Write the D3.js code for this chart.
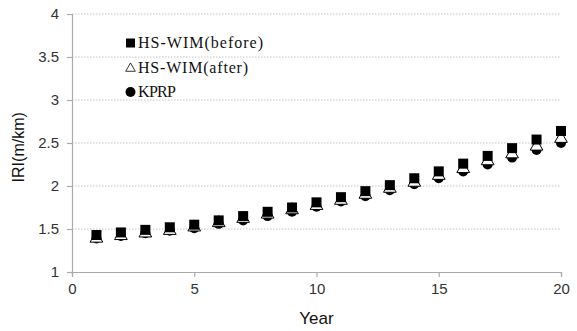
<!DOCTYPE html>
<html>
<head>
<meta charset="utf-8">
<script src="https://cdn.jsdelivr.net/npm/d3@7"></script>
<style>
  body { margin: 0; background: #fff; }
  svg { display: block; }
</style>
</head>
<body>
<svg id="svg"></svg>
<script>
// data
const years = [1, 2, 3, 4, 5, 6, 7, 8, 9, 10, 11, 12, 13, 14, 15, 16, 17, 18, 19, 20];
const before = [1.43, 1.46, 1.49, 1.52, 1.55, 1.60, 1.65, 1.70, 1.75, 1.81, 1.87, 1.94, 2.01, 2.09, 2.17, 2.26, 2.35, 2.44, 2.54, 2.64];
const after = [1.39, 1.42, 1.45, 1.48, 1.52, 1.57, 1.62, 1.67, 1.72, 1.77, 1.83, 1.90, 1.97, 2.04, 2.12, 2.20, 2.29, 2.37, 2.46, 2.55];
const kprp = [1.39, 1.42, 1.45, 1.48, 1.51, 1.56, 1.60, 1.65, 1.70, 1.76, 1.82, 1.88, 1.95, 2.02, 2.09, 2.17, 2.25, 2.33, 2.42, 2.50];
const xTicks = [0, 5, 10, 15, 20];
const yTicks = [1, 1.5, 2, 2.5, 3, 3.5, 4];
const legendNames = ["HS-WIM(before)", "HS-WIM(after)", "KPRP"];
const legendWidths = [125, 110, 38];

const w = 577;
const h = 331;
let svg = d3.select("#svg").attr("width", w).attr("height", h);

const xScale = d3.scaleLinear().domain([0, 20]).range([72, 561]);
const yScale = d3.scaleLinear().domain([1, 4]).range([272, 14]);

// gridlines
svg.append("g")
   .selectAll("line")
   .data(yTicks.filter(d => d > 1))
   .enter()
   .append("line")
   .attr("x1", xScale(0))
   .attr("x2", xScale(20))
   .attr("y1", d => yScale(d))
   .attr("y2", d => yScale(d))
   .attr("stroke", "#c4c4c4")
   .attr("stroke-dasharray", "1.5,1.5");

// axes
let xAxis = d3.axisBottom(xScale).tickValues(xTicks).tickSize(5).tickPadding(6);
let gx = svg.append("g")
   .attr("transform", "translate(0," + yScale(1) + ")")
   .call(xAxis);

let yAxis = d3.axisLeft(yScale).tickValues(yTicks).tickSize(5).tickPadding(8)
   .tickFormat(d => d);
let gy = svg.append("g")
   .attr("transform", "translate(" + xScale(0) + ",0)")
   .call(yAxis);

[gx, gy].forEach(g => {
  g.select(".domain").attr("stroke", "#aaa").attr("stroke-width", 1.2);
  g.selectAll(".tick line").attr("stroke", "#aaa").attr("stroke-width", 1.2);
  g.selectAll("text")
   .attr("fill", "#333")
   .style("font-family", "Liberation Sans, Arial, sans-serif")
   .style("font-size", "15px");
});

// axis titles
svg.append("text")
   .attr("x", xScale(10))
   .attr("y", 324)
   .attr("text-anchor", "middle")
   .attr("font-family", "Liberation Sans, Arial, sans-serif")
   .attr("font-size", "17px")
   .attr("fill", "#111")
   .text("Year");

svg.append("text")
   .attr("transform", "translate(24," + yScale(2.45) + ") rotate(-90)")
   .attr("text-anchor", "middle")
   .attr("font-family", "Liberation Sans, Arial, sans-serif")
   .attr("font-size", "16px")
   .attr("fill", "#111")
   .text("IRI(m/km)");

const triangle = d3.symbol().type(d3.symbolTriangle).size(70);

// KPRP circles
svg.append("g")
   .selectAll("circle")
   .data(years)
   .enter()
   .append("circle")
   .attr("cx", d => xScale(d))
   .attr("cy", (d, i) => yScale(kprp[i]))
   .attr("r", 5)
   .attr("fill", "#000");

// HS-WIM(after) triangles
svg.append("g")
   .selectAll("path")
   .data(years)
   .enter()
   .append("path")
   .attr("d", triangle)
   .attr("transform", (d, i) => "translate(" + xScale(d) + "," + yScale(after[i]) + ")")
   .attr("fill", "#fff")
   .attr("stroke", "#000")
   .attr("stroke-width", 1);

// HS-WIM(before) squares
svg.append("g")
   .selectAll("rect")
   .data(years)
   .enter()
   .append("rect")
   .attr("x", d => xScale(d) - 5)
   .attr("y", (d, i) => yScale(before[i]) - 5)
   .attr("width", 10)
   .attr("height", 10)
   .attr("fill", "#000");

// legend
let legend = svg.append("g");
legendNames.forEach((name, i) => {
  let ly = 43 + i * 24.5;
  if (i === 0) {
    legend.append("rect").attr("x", 126).attr("y", ly - 4.5).attr("width", 9).attr("height", 9).attr("fill", "#000");
  } else if (i === 1) {
    legend.append("path").attr("d", d3.symbol().type(d3.symbolTriangle).size(40))
          .attr("transform", "translate(130.5," + (ly + 1) + ")")
          .attr("fill", "#fff").attr("stroke", "#000").attr("stroke-width", 0.8);
  } else {
    legend.append("circle").attr("cx", 130.5).attr("cy", ly).attr("r", 5).attr("fill", "#000");
  }
  legend.append("text")
        .attr("x", 138)
        .attr("y", ly + 5)
        .attr("font-family", "Liberation Serif, Times New Roman, serif")
        .attr("font-size", "16px")
        .attr("textLength", legendWidths[i])
        .attr("lengthAdjust", "spacing")
        .attr("fill", "#111")
        .text(name);
});
</script>
</body>
</html>
